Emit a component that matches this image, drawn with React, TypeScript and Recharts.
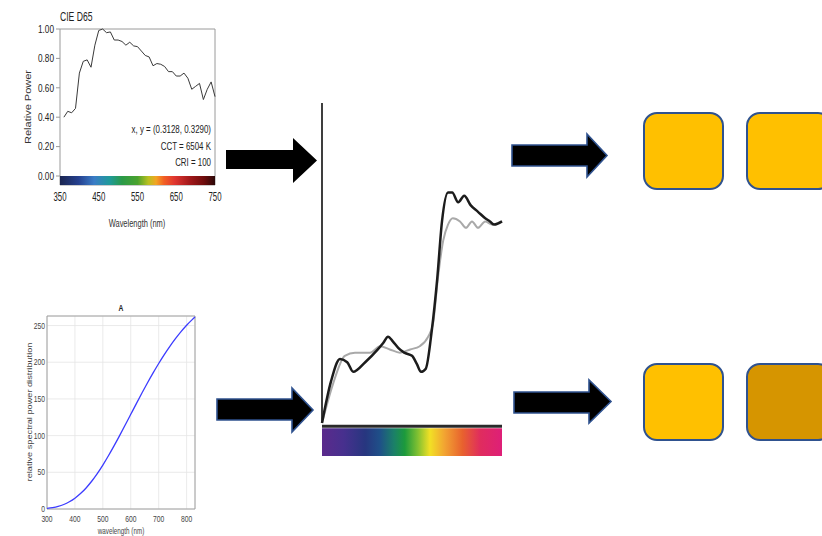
import React from 'react';
import { LineChart, Line, XAxis, YAxis, CartesianGrid, ReferenceArea, ReferenceLine } from 'recharts';

// ---- CIE D65 (relative power) ----
const d65Wavelengths = [360, 370, 380, 390, 400, 410, 420, 430, 440, 450, 460, 470, 480, 490, 500, 510, 520, 530, 540, 550, 560, 570, 580, 590, 600, 610, 620, 630, 640, 650, 660, 670, 680, 690, 700, 710, 720, 730, 740, 750];
const d65Power = [0.40, 0.44, 0.43, 0.46, 0.70, 0.78, 0.79, 0.74, 0.89, 0.99, 1.00, 0.975, 0.98, 0.925, 0.925, 0.915, 0.89, 0.91, 0.885, 0.88, 0.85, 0.82, 0.81, 0.75, 0.765, 0.76, 0.745, 0.71, 0.71, 0.68, 0.68, 0.70, 0.665, 0.59, 0.61, 0.63, 0.52, 0.59, 0.64, 0.54];
const d65XTicks = [350, 450, 550, 650, 750];
const d65YTicks = [0, 0.2, 0.4, 0.6, 0.8, 1.0];
const d65Notes = ['x, y = (0.3128, 0.3290)', 'CCT = 6504 K', 'CRI = 100'];

// ---- CIE A (relative spectral power distribution) ----
const aWavelengths = [300, 320, 340, 360, 380, 400, 420, 440, 460, 480, 500, 520, 540, 560, 580, 600, 620, 640, 660, 680, 700, 720, 740, 760, 780, 800, 820, 830];
const aPower = [0.93, 1.93, 3.59, 6.14, 9.8, 14.71, 20.99, 28.7, 37.81, 48.24, 59.86, 72.5, 85.95, 100.0, 114.44, 129.04, 143.62, 157.98, 171.96, 185.43, 198.26, 210.36, 221.67, 232.12, 241.68, 250.33, 258.07, 261.6];
const aXTicks = [300, 400, 500, 600, 700, 800];
const aYTicks = [0, 50, 100, 150, 200, 250];

// ---- Reflectance curves (middle) ----
const blackWavelengths = [400, 415, 430, 442, 452, 472, 493, 502, 510, 518, 527, 537, 550, 558, 565, 573, 583, 592, 600, 610, 617, 627, 637, 648, 660, 672, 680, 687, 700];
const blackReflect = [0.0, 0.13, 0.2, 0.19, 0.16, 0.19, 0.23, 0.25, 0.27, 0.255, 0.235, 0.22, 0.21, 0.185, 0.16, 0.17, 0.29, 0.45, 0.63, 0.72, 0.72, 0.69, 0.71, 0.68, 0.66, 0.64, 0.63, 0.62, 0.63];
const grayWavelengths = [400, 418, 438, 455, 480, 497, 513, 530, 547, 563, 577, 585, 593, 602, 610, 618, 630, 640, 650, 660, 672, 683, 700];
const grayReflect = [0.0, 0.12, 0.21, 0.22, 0.22, 0.24, 0.23, 0.22, 0.23, 0.24, 0.27, 0.31, 0.45, 0.57, 0.62, 0.64, 0.63, 0.61, 0.63, 0.61, 0.63, 0.62, 0.63];

const d65Data = d65Wavelengths.map((wl, i) => ({ wl, v: d65Power[i] }));
const aData = aWavelengths.map((wl, i) => ({ wl, v: aPower[i] }));
const blackData = blackWavelengths.map((wl, i) => ({ wl, v: blackReflect[i] }));
const grayData = grayWavelengths.map((wl, i) => ({ wl, v: grayReflect[i] }));

const sans = "'Liberation Sans', Arial, sans-serif";

function narrowTick(fontSize: number, sx: number, fill: string, anchor: string, dy: string, fmt?: (v: number) => string) {
  return (props: any) => {
    const { x, y, payload } = props;
    return (
      <text transform={`translate(${x} ${y}) scale(${sx} 1)`} x={0} y={0} dy={dy} textAnchor={anchor}
        fontSize={fontSize} fill={fill} fontFamily={sans}>
        {fmt ? fmt(payload.value) : payload.value}
      </text>
    );
  };
}

function NText({ x, y, sx, size, anchor, fill, weight, children }: any) {
  return (
    <text transform={`translate(${x} ${y}) scale(${sx} 1)`} x={0} y={0} fontSize={size} textAnchor={anchor || 'start'}
      fill={fill || '#222'} fontWeight={weight || 'normal'} fontFamily={sans}>{children}</text>
  );
}

function VText({ x, y, sy, size, fill, children }: any) {
  return (
    <text transform={`translate(${x} ${y}) rotate(-90) scale(1 ${sy})`} x={0} y={0} dy="0.35em" fontSize={size}
      textAnchor="middle" fill={fill || '#222'} fontFamily={sans}>{children}</text>
  );
}

function Arrow({ x0, x1, x2, yTop, yBot, headTop, headBot, outline }: any) {
  const yMid = (headTop + headBot) / 2;
  const pts = `${x0},${yTop} ${x1},${yTop} ${x1},${headTop} ${x2},${yMid} ${x1},${headBot} ${x1},${yBot} ${x0},${yBot}`;
  return <polygon points={pts} fill="#000" stroke={outline} strokeWidth={outline ? 1.6 : 0} strokeLinejoin="miter" />;
}

export default function App() {
  return (
    <div style={{ position: 'absolute', left: 0, top: 0, width: 822, height: 536, background: '#fff', overflow: 'hidden' }}>
      <svg width={0} height={0} style={{ position: 'absolute' }}>
        <defs>
          <linearGradient id="specD65" x1="0" y1="0" x2="1" y2="0">
            <stop offset="0" stopColor="#1b2550" />
            <stop offset="0.12" stopColor="#25408f" />
            <stop offset="0.22" stopColor="#3a7cc6" />
            <stop offset="0.32" stopColor="#1f9a9a" />
            <stop offset="0.4" stopColor="#2b9a48" />
            <stop offset="0.5" stopColor="#4aa22e" />
            <stop offset="0.57" stopColor="#b9c020" />
            <stop offset="0.62" stopColor="#f2a423" />
            <stop offset="0.67" stopColor="#f26024" />
            <stop offset="0.74" stopColor="#df3530" />
            <stop offset="0.84" stopColor="#a0181a" />
            <stop offset="0.93" stopColor="#6e0c0c" />
            <stop offset="1" stopColor="#2a0808" />
          </linearGradient>
          <linearGradient id="specMid" x1="0" y1="0" x2="1" y2="0">
            <stop offset="0" stopColor="#5b2a8c" />
            <stop offset="0.12" stopColor="#47308e" />
            <stop offset="0.24" stopColor="#27367f" />
            <stop offset="0.32" stopColor="#1f4f88" />
            <stop offset="0.4" stopColor="#1b8068" />
            <stop offset="0.46" stopColor="#1c9a3c" />
            <stop offset="0.53" stopColor="#7dbf32" />
            <stop offset="0.6" stopColor="#f2e025" />
            <stop offset="0.68" stopColor="#f2a432" />
            <stop offset="0.78" stopColor="#e8622e" />
            <stop offset="0.88" stopColor="#e02c5e" />
            <stop offset="1" stopColor="#de1f78" />
          </linearGradient>
        </defs>
      </svg>

      {/* CIE D65 */}
      <div style={{ position: 'absolute', left: 0, top: 0 }}>
        <LineChart width={230} height={240} data={d65Data} margin={{ top: 29, right: 15, bottom: 25, left: 0 }}>
          <XAxis type="number" dataKey="wl" domain={[350, 750]} ticks={d65XTicks} axisLine={false} tickLine={false}
            tickSize={0} tickMargin={7} height={30} interval={0}
            tick={narrowTick(13, 0.6, '#222', 'middle', '0.71em')} />
          <YAxis type="number" domain={[-0.0612, 1]} ticks={d65YTicks} width={60} axisLine={false}
            tickLine={{ stroke: '#999' }} tickSize={4} tickMargin={2} interval={0}
            tick={narrowTick(11, 0.75, '#222', 'end', '0.35em', (v: number) => v.toFixed(2))} />
          <ReferenceArea x1={350} x2={750} y1={-0.0612} y2={1} fill="#fff" fillOpacity={0} stroke="#9a9a9a" strokeWidth={1} />
          <ReferenceArea x1={350} x2={750} y1={-0.0612} y2={0} fill="url(#specD65)" fillOpacity={1} stroke="none" />
          <Line dataKey="v" type="linear" stroke="#3a3a3a" strokeWidth={1} dot={false} isAnimationActive={false} />
        </LineChart>
      </div>

      {/* CIE A */}
      <div style={{ position: 'absolute', left: 0, top: 300 }}>
        <LineChart width={210} height={236} data={aData} margin={{ top: 16, right: 15, bottom: 7, left: 0 }}>
          <CartesianGrid stroke="#e4e4e4" strokeWidth={0.8} />
          <XAxis type="number" dataKey="wl" domain={[300, 830]} ticks={aXTicks} axisLine={false} tickLine={false}
            tickSize={0} tickMargin={7} height={20} interval={0}
            tick={narrowTick(9, 0.75, '#444', 'middle', '0.71em')} />
          <YAxis type="number" domain={[0, 263]} ticks={aYTicks} width={47} axisLine={false} tickLine={false}
            tickSize={0} tickMargin={2} interval={0}
            tick={narrowTick(9, 0.75, '#444', 'end', '0.35em')} />
          <ReferenceArea x1={300} x2={830} y1={0} y2={263} fill="#fff" fillOpacity={0} stroke="#a0a0a0" strokeWidth={1} />
          <Line dataKey="v" type="monotone" stroke="#3c3cff" strokeWidth={1.3} dot={false} isAnimationActive={false} />
        </LineChart>
      </div>

      {/* Reflectance */}
      <div style={{ position: 'absolute', left: 300, top: 90 }}>
        <LineChart width={210} height={380} margin={{ top: 13, right: 8, bottom: 14, left: 22 }}>
          <XAxis type="number" dataKey="wl" domain={[400, 700]} hide />
          <YAxis type="number" domain={[-0.103, 1]} hide />
          <ReferenceArea x1={400} x2={700} y1={-0.103} y2={-0.016} fill="url(#specMid)" fillOpacity={1} stroke="none" />
          <ReferenceArea x1={400} x2={700} y1={-0.015} y2={-0.005} fill="#2a2a2a" fillOpacity={1} stroke="none" />
          <ReferenceLine segment={[{ x: 400, y: 0 }, { x: 400, y: 1 }]} stroke="#2a2a2a" strokeWidth={1.8} />
          <Line data={grayData} dataKey="v" type="monotone" stroke="#a9a9a9" strokeWidth={2} dot={false} isAnimationActive={false} />
          <Line data={blackData} dataKey="v" type="monotone" stroke="#1c1c1c" strokeWidth={2.5} dot={false} isAnimationActive={false} />
        </LineChart>
      </div>

      {/* Text and diagram decorations */}
      <svg width={822} height={536} style={{ position: 'absolute', left: 0, top: 0, pointerEvents: 'none' }}>
        <NText x={60} y={21} sx={0.72} size={12}>CIE D65</NText>
        <VText x={28} y={107} sy={0.75} size={11} fill="#333">Relative Power</VText>
        {d65Notes.map((t, i) => (
          <NText key={t} x={211} y={133 + i * 16.5} sx={0.72} size={11} anchor="end">{t}</NText>
        ))}
        <NText x={137} y={227} sx={0.68} size={11} anchor="middle" fill="#333">Wavelength (nm)</NText>

        <NText x={121} y={311} sx={0.75} size={9} anchor="middle" weight="bold">A</NText>
        <VText x={30} y={412} sy={0.72} size={9.2} fill="#444">relative spectral power distribution</VText>
        <NText x={121} y={534} sx={0.7} size={9} anchor="middle" fill="#444">wavelength (nm)</NText>

        <Arrow x0={226} x1={293} x2={317} yTop={150} yBot={169} headTop={138} headBot={183} />
        <Arrow x0={217} x1={292} x2={313} yTop={399} yBot={420} headTop={388} headBot={432} outline="#2f528f" />
        <Arrow x0={512} x1={587} x2={607} yTop={145} yBot={166} headTop={134} headBot={177} outline="#2f528f" />
        <Arrow x0={514} x1={589} x2={611} yTop={392} yBot={413} headTop={380} headBot={423} outline="#2f528f" />

        <rect x={644} y={113} width={79} height={76} rx={13} fill="#ffc000" stroke="#2f528f" strokeWidth={2} />
        <rect x={747} y={113} width={84} height={76} rx={13} fill="#ffc000" stroke="#2f528f" strokeWidth={2} />
        <rect x={644} y={364} width={79} height={76} rx={13} fill="#ffc000" stroke="#2f528f" strokeWidth={2} />
        <rect x={747} y={364} width={84} height={76} rx={13} fill="#d69500" stroke="#2f528f" strokeWidth={2} />
      </svg>
    </div>
  );
}
